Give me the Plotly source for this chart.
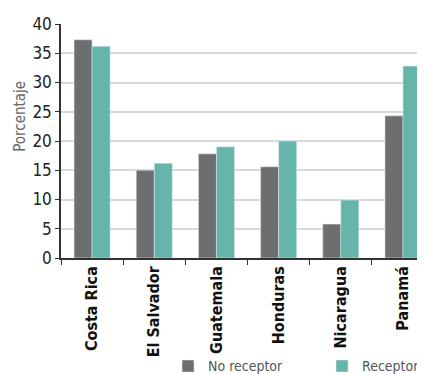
import plotly.graph_objects as go

categories = ["Costa Rica", "El Salvador", "Guatemala", "Honduras", "Nicaragua", "Panamá"]
no_receptor = [37.3, 15.0, 17.8, 15.6, 5.8, 24.3]
receptor = [36.2, 16.2, 19.0, 20.0, 9.9, 32.8]
y_ticks = [0, 5, 10, 15, 20, 25, 30, 35, 40]

FONT = "DejaVu Sans Condensed, Liberation Sans Narrow, Roboto, sans-serif"

fig = go.Figure()
fig.add_trace(go.Bar(x=categories, y=no_receptor, name="No receptor", marker_color="#6d6e70"))
fig.add_trace(go.Bar(x=categories, y=receptor, name="Receptor", marker_color="#66b5ab"))

# page body has an 8px margin, so the figure is 417x366 drawn at (8, 8)
fig.update_layout(
    width=417, height=366,
    margin=dict(l=53, r=0, t=16, b=116, autoexpand=False),
    plot_bgcolor="white", paper_bgcolor="white",
    barmode="group", bargap=0.42, bargroupgap=0,
    font=dict(family=FONT, color="#222"),
    legend=dict(orientation="h", yanchor="top", y=-0.395, xanchor="left", x=0.294,
                font=dict(size=14, color="#555", family=FONT),
                itemwidth=30, entrywidth=109, entrywidthmode="pixels",
                bgcolor="rgba(0,0,0,0)"),
    annotations=[dict(text="Porcentaje", xref="paper", yref="paper", x=-0.113, y=0.607,
                      textangle=-90, showarrow=False, xanchor="center", yanchor="middle",
                      font=dict(size=15, color="#666", family=FONT))],
)
fig.update_xaxes(
    range=[-0.5, 5.354], tickangle=-90, tickson="boundaries", ticks="outside", ticklen=5,
    tickcolor="#333", showline=True, linecolor="#333", linewidth=1.5, automargin=False,
    tickfont=dict(size=16, family=FONT, color="#111", weight="bold"),
)
fig.update_yaxes(
    range=[0, 40], tickvals=y_ticks, ticks="outside", ticklen=4, tickcolor="#333",
    showline=True, linecolor="#333", linewidth=1.5, automargin=False,
    showgrid=True, gridcolor="#d9d9d9", gridwidth=1.5,
    tickfont=dict(size=17, color="#222", family=FONT),
)
fig.write_html("out.html")
